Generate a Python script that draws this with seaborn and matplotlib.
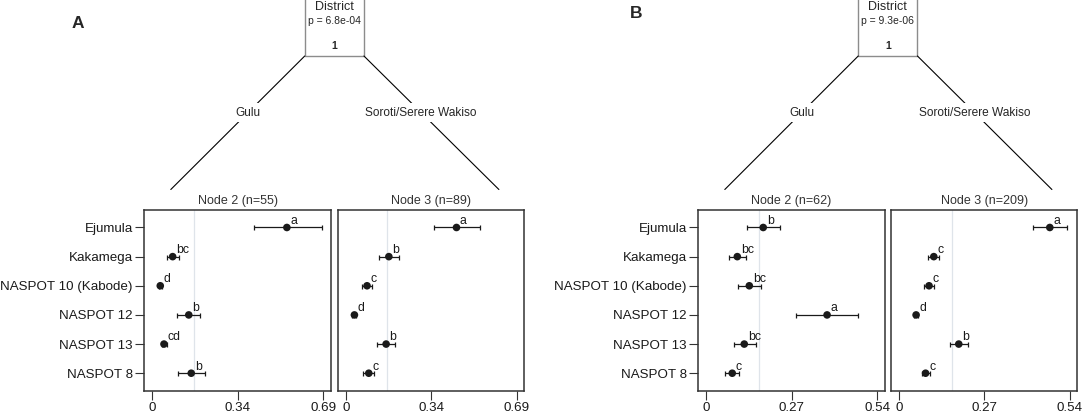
import numpy as np
import pandas as pd
import matplotlib
matplotlib.use("Agg")
import matplotlib.pyplot as plt
import seaborn as sns

# Data
varieties = ["Ejumula", "Kakamega", "NASPOT 10 (Kabode)", "NASPOT 12", "NASPOT 13", "NASPOT 8"]

# Panel A
a2_mean = [0.543, 0.082, 0.032, 0.147, 0.047, 0.157]
a2_low = [0.410, 0.061, 0.026, 0.100, 0.038, 0.102]
a2_high = [0.683, 0.108, 0.040, 0.194, 0.058, 0.214]
a2_letters = ["a", "bc", "d", "b", "cd", "b"]

a3_mean = [0.447, 0.174, 0.086, 0.035, 0.163, 0.093]
a3_low = [0.355, 0.133, 0.066, 0.027, 0.126, 0.069]
a3_high = [0.541, 0.214, 0.105, 0.043, 0.200, 0.116]
a3_letters = ["a", "b", "c", "d", "b", "c"]

# Panel B
b2_mean = [0.180, 0.098, 0.136, 0.382, 0.120, 0.082]
b2_low = [0.129, 0.071, 0.099, 0.284, 0.086, 0.060]
b2_high = [0.233, 0.125, 0.174, 0.479, 0.156, 0.104]
b2_letters = ["b", "bc", "bc", "a", "bc", "c"]

b3_mean = [0.477, 0.110, 0.095, 0.054, 0.189, 0.084]
b3_low = [0.425, 0.093, 0.079, 0.047, 0.160, 0.073]
b3_high = [0.530, 0.128, 0.111, 0.061, 0.219, 0.099]
b3_letters = ["a", "c", "c", "d", "b", "c"]

ref_line = 0.167
p_values = ["6.8e-04", "9.3e-06"]
node_n = [[55, 89], [62, 209]]
branch_labels = ["Gulu", "Soroti/Serere Wakiso"]
a_ticks = [0, 0.345, 0.69]
a_ticklabels = ["0", "0.34", "0.69"]
b_ticks = [0, 0.27, 0.54]
b_ticklabels = ["0", "0.27", "0.54"]

sns.set_theme(style="ticks")
plt.rcParams["font.family"] = ["Liberation Sans", "DejaVu Sans"]

W, H = 1084, 416
fig = plt.figure(figsize=(W / 100, H / 100), dpi=100)

# overlay for the tree part, in pixel coordinates
tree = fig.add_axes([0, 0, 1, 1])
tree.set_xlim(0, W)
tree.set_ylim(H, 0)
tree.axis("off")


def px_axes(x0, x1, y0, y1):
    return fig.add_axes([x0 / W, 1 - y1 / H, (x1 - x0) / W, (y1 - y0) / H])


def draw_node(ax, mean, low, high, letters, xmax, ticks, ticklabels, title, show_y):
    df = pd.DataFrame({"variety": varieties, "mean": mean, "low": low, "high": high})
    df["pos"] = np.arange(len(df))
    ax.axvline(ref_line, color="#dfe4ea", lw=0.9, zorder=0)
    ax.errorbar(df["mean"], df["pos"],
                xerr=[df["mean"] - df["low"], df["high"] - df["mean"]],
                fmt="none", ecolor="#1a1a1a", elinewidth=0.9, capsize=1.8, capthick=0.9, zorder=2)
    sns.scatterplot(data=df, x="mean", y="pos", ax=ax, color="#1a1a1a", s=30,
                    edgecolor="none", zorder=3, legend=False)
    for m, p, lab in zip(df["mean"], df["pos"], letters):
        ax.annotate(lab, (m, p), xytext=(2.5, 0.5), textcoords="offset points",
                    ha="left", va="bottom", fontsize=8.8, color="#1a1a1a")
    ax.set_xlim(-0.047 * xmax, 1.045 * xmax)
    ax.set_ylim(5.6, -0.6)
    ax.set_xticks(ticks, ticklabels)
    ax.set_yticks(df["pos"], varieties if show_y else [])
    ax.set_xlabel("")
    ax.set_ylabel("")
    ax.set_title(title, fontsize=9, color="#333333", pad=4)
    for s in ax.spines.values():
        s.set_color("#333333")
        s.set_linewidth(1.1)
    ax.tick_params(axis="both", direction="out", length=6.5, width=0.8, color="#333333",
                   labelsize=9.6, labelcolor="#1a1a1a", pad=1.7)
    if not show_y:
        ax.tick_params(axis="y", length=0)


panels = [
    (144.3, 331.0, 337.7, 524.4, a_ticks, a_ticklabels, 0.69,
     (a2_mean, a2_low, a2_high, a2_letters), (a3_mean, a3_low, a3_high, a3_letters)),
    (698.3, 884.7, 891.0, 1077.4, b_ticks, b_ticklabels, 0.54,
     (b2_mean, b2_low, b2_high, b2_letters), (b3_mean, b3_low, b3_high, b3_letters)),
]

for i, (l0, l1, r0, r1, ticks, tlabels, xmax, left, right) in enumerate(panels):
    ax_l = px_axes(l0, l1, 210, 390.7)
    ax_r = px_axes(r0, r1, 210, 390.7)
    draw_node(ax_l, *left, xmax, ticks, tlabels, f"Node 2 (n={node_n[i][0]})", True)
    draw_node(ax_r, *right, xmax, ticks, tlabels, f"Node 3 (n={node_n[i][1]})", False)

    # split box
    cx = (l1 + r0) / 2
    bx0, bx1, by = cx - 29.6, cx + 29.6, 56
    tree.plot([bx0, bx0, bx1, bx1], [-5, by, by, -5], color="#8c8c8c", lw=1.0)
    tree.text(cx, 6.5, "District", ha="center", va="center", fontsize=9)
    tree.text(cx, 20.7, f"p = {p_values[i]}", ha="center", va="center", fontsize=7.5)
    tree.text(cx, 45.8, "1", ha="center", va="center", fontsize=7.5, fontweight="bold")

    # branches
    ends = [(bx0, l0 + 26.5), (bx1, r1 - 25.5)]
    for (sx, ex), lab in zip(ends, branch_labels):
        ey = 189.5
        tree.plot([sx, ex], [by, ey], color="black", lw=0.8)
        ly = 112.5
        lx = sx + (ex - sx) * (ly - by) / (ey - by)
        tree.text(lx, ly, lab, ha="center", va="center", fontsize=8.6,
                  bbox=dict(boxstyle="square,pad=0.3", fc="white", ec="none"))

tree.text(78.3, 23.3, "A", ha="center", va="center", fontsize=12.5, fontweight="bold")
tree.text(636, 14, "B", ha="center", va="center", fontsize=12.5, fontweight="bold")

fig.savefig("out.png", dpi=100)
